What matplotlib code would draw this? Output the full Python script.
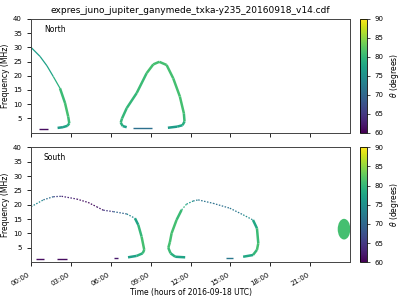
import matplotlib
matplotlib.use("Agg")
import matplotlib.pyplot as plt
import numpy as np
from matplotlib.collections import LineCollection
from matplotlib.colors import Normalize
from matplotlib.patches import Ellipse

# time in hours, frequency in MHz, theta in degrees
north1_t = [0.0, 0.68, 1.2, 1.68, 2.18, 2.56, 2.8, 2.88, 2.75, 2.4, 2.0]
north1_f = [30.0, 26.8, 23.5, 19.7, 15.6, 10.4, 5.6, 3.3, 2.4, 1.9, 1.65]
north1_th = [76, 77, 77, 78, 80, 81, 81, 80, 78, 77, 76]

north2_t = [7.2, 6.9, 6.75, 6.85, 7.2, 7.95, 8.7, 9.2, 9.65, 10.2, 10.7, 11.2, 11.5, 11.55, 11.4, 11.0, 10.3]
north2_f = [1.9, 2.3, 3.5, 5.0, 8.6, 13.9, 20.9, 24.0, 24.9, 23.8, 19.1, 12.7, 6.8, 3.9, 2.6, 2.1, 1.7]
north2_th = [76, 78, 80, 80, 80, 80, 81, 81, 81, 81, 81, 81, 81, 80, 78, 77, 76]

north_low_t = [[0.62, 1.26], [7.7, 9.1]]
north_low_f = [[1.25, 1.25], [1.65, 1.65]]
north_low_th = [61, 71]

south1_t = [0.0, 0.93, 1.68, 2.3, 3.43, 4.3, 4.94, 5.44, 6.2, 7.2, 7.82, 8.07, 8.32, 8.52, 8.4, 7.95, 7.3]
south1_f = [19.3, 21.7, 22.8, 22.95, 22.0, 20.8, 19.3, 18.1, 17.6, 16.8, 15.3, 13.0, 8.9, 4.3, 3.1, 2.2, 1.7]
south1_th = [75, 73, 68, 64, 62, 61, 61, 63, 67, 72, 76, 79, 81, 81, 80, 78, 76]

south2_t = [11.6, 10.85, 10.5, 10.33, 10.45, 10.58, 10.95, 11.33, 11.7, 12.2, 12.58, 13.7, 14.96, 15.96, 16.7, 17.0, 17.1, 17.0, 16.7, 15.96]
south2_f = [1.7, 1.9, 3.1, 5.0, 7.0, 10.1, 14.7, 18.2, 20.2, 21.3, 21.7, 20.5, 18.8, 16.5, 14.7, 11.8, 6.6, 4.3, 2.5, 1.9]
south2_th = [77, 78, 80, 81, 81, 81, 81, 80, 78, 74, 72, 71, 71, 73, 76, 80, 81, 81, 79, 77]

south_low_t = [[0.38, 1.0], [1.93, 2.68], [6.26, 6.52], [14.7, 15.2]]
south_low_f = [[1.1, 1.1], [1.1, 1.1], [1.45, 1.45], [1.6, 1.6]]
south_low_th = [61, 61, 62, 72]

blob_t, blob_f, blob_th = 23.55, 11.5, 81

xticks = [0, 3, 6, 9, 12, 15, 18, 21]
xticklabels = ["00:00", "03:00", "06:00", "09:00", "12:00", "15:00", "18:00", "21:00"]
yticks = [5, 10, 15, 20, 25, 30, 35, 40]
cticks = [60, 65, 70, 75, 80, 85, 90]

cmap = plt.get_cmap("viridis")
norm = Normalize(60, 90)


def draw_curve(ax, t, f, th, thin_segs=(0, 0), dotted=False):
    # segments in thin_segs [start, stop) are drawn fine, the rest thick
    pts = np.column_stack([t, f])
    segs = np.stack([pts[:-1], pts[1:]], axis=1)
    th = np.asarray(th, float)
    thin = np.zeros(len(segs), bool)
    thin[thin_segs[0]:thin_segs[1]] = True
    cols = cmap(norm((th[:-1] + th[1:]) / 2))
    thick = LineCollection(segs[~thin], colors=cols[~thin], linewidths=1.8, capstyle="butt")
    ax.add_collection(thick)
    if thin.any():
        ls = (0, (1.2, 1.2)) if dotted else "solid"
        fine = LineCollection(segs[thin], colors=cols[thin], linewidths=0.9,
                              linestyles=ls, capstyle="butt")
        ax.add_collection(fine)


def draw_low(ax, ts, fs, ths):
    for t, f, th in zip(ts, fs, ths):
        ax.plot(t, f, color=cmap(norm(th)), lw=1.0, solid_capstyle="butt")


fig = plt.figure(figsize=(4, 3), dpi=100)
ax1 = fig.add_axes([0.0775, 0.558, 0.7975, 0.379])
ax2 = fig.add_axes([0.0775, 0.126, 0.7975, 0.383])
cax1 = fig.add_axes([0.9, 0.558, 0.0175, 0.379])
cax2 = fig.add_axes([0.9, 0.126, 0.0175, 0.383])

draw_curve(ax1, north1_t, north1_f, north1_th, thin_segs=(0, 4))
draw_curve(ax1, north2_t, north2_f, north2_th)
draw_low(ax1, north_low_t, north_low_f, north_low_th)

draw_curve(ax2, south1_t, south1_f, south1_th, thin_segs=(0, 10), dotted=True)
draw_curve(ax2, south2_t, south2_f, south2_th, thin_segs=(7, 14), dotted=True)
draw_low(ax2, south_low_t, south_low_f, south_low_th)
ax2.add_patch(Ellipse((blob_t, blob_f), 0.95, 7.2, color=cmap(norm(blob_th)), lw=0))

for ax, name in [(ax1, "North"), (ax2, "South")]:
    ax.set_xlim(0, 24)
    ax.set_ylim(0, 40)
    ax.set_yticks(yticks)
    ax.set_xticks(xticks)
    ax.tick_params(labelsize=5, length=3, width=0.6)
    ax.set_ylabel("Frequency (MHz)", fontsize=5.5, labelpad=2)
    ax.text(0.04, 0.91, name, transform=ax.transAxes, fontsize=5.5, va="center")
    for s in ax.spines.values():
        s.set_linewidth(0.7)
        s.set_color("#444444")

ax1.set_xticklabels([])
ax2.set_xticklabels(xticklabels, rotation=30, ha="right")
ax2.set_xlabel("Time (hours of 2016-09-18 UTC)", fontsize=5.5, labelpad=1)
ax1.set_title("expres_juno_jupiter_ganymede_txka-y235_20160918_v14.cdf", fontsize=6.5, pad=4)

sm = matplotlib.cm.ScalarMappable(norm=norm, cmap=cmap)
for cax in (cax1, cax2):
    cb = fig.colorbar(sm, cax=cax, ticks=cticks)
    cb.ax.tick_params(labelsize=5, length=2, width=0.5)
    cb.set_label(r"$\theta$ (degrees)", fontsize=5.5, labelpad=3)
    cb.outline.set_linewidth(0.6)

plt.savefig("out.png", dpi=100)
